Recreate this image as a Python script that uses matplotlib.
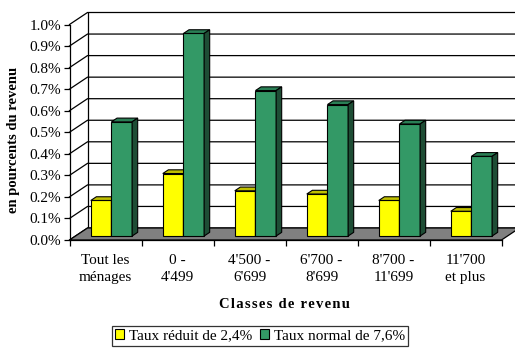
import matplotlib.pyplot as plt
from matplotlib.patches import Polygon

# data (in % of income)
categories = ["Tout les\nménages", "0 -\n4'499", "4'500 -\n6'699",
              "6'700 -\n8'699", "8'700 -\n11'699", "11'700\net plus"]
taux_reduit = [0.165, 0.29, 0.21, 0.195, 0.165, 0.115]
taux_normal = [0.53, 0.94, 0.675, 0.61, 0.52, 0.37]
series_names = ["Taux réduit de 2,4%", "Taux normal de 7,6%"]
yticks = [i / 10 for i in range(11)]

plt.rcParams['font.family'] = ['Liberation Serif', 'DejaVu Serif']

W, H = 515, 349
fig = plt.figure(figsize=(W / 100, H / 100), dpi=100)
ax = fig.add_axes([69.5 / W, 1 - 240 / H, (501.5 - 69.5) / W, (240 - 24.5) / H])
n = len(categories)
ax.set_xlim(0, n)
ax.set_ylim(0, 1.0)

# pseudo 3-D depth offsets, in data units
dx, dy = 18 / 72, 12 / 215.5
f0, f1 = 0.33, 0.64   # front / back depth of the bars
bw = 0.287            # bar width in category units

# back wall + side wall
ax.add_patch(Polygon([(dx, dy), (n + 1, dy), (n + 1, 1 + dy), (dx, 1 + dy)],
                     closed=True, fc='white', ec='none', zorder=0, clip_on=False))
for v in yticks:
    ax.plot([0, dx, n + 1], [v, v + dy, v + dy], color='black', lw=0.9,
            zorder=1, clip_on=False)
ax.plot([dx, dx], [dy, 1 + dy], color='black', lw=0.9, zorder=1, clip_on=False)

# floor
ax.add_patch(Polygon([(0, 0), (n, 0), (n + dx, dy), (dx, dy)], closed=True,
                     fc='#808080', ec='black', lw=0.9, zorder=2, clip_on=False))


def bar3d(x0, w, h, front, top, side):
    ox, oy = dx * f0, dy * f0
    ddx, ddy = dx * (f1 - f0), dy * (f1 - f0)
    xa, xb = x0 + ox, x0 + w + ox
    ya, yb = oy, h + oy
    kw = dict(closed=True, ec='black', lw=0.8, zorder=3, clip_on=False)
    ax.add_patch(Polygon([(xa, ya), (xb, ya), (xb, yb), (xa, yb)], fc=front, **kw))
    ax.add_patch(Polygon([(xa, yb), (xb, yb), (xb + ddx, yb + ddy), (xa + ddx, yb + ddy)], fc=top, **kw))
    ax.add_patch(Polygon([(xb, ya), (xb + ddx, ya + ddy), (xb + ddx, yb + ddy), (xb, yb)], fc=side, **kw))


for i in range(n):
    c = i + 0.5
    bar3d(c - bw, bw, taux_reduit[i], '#FFFF00', '#C0C000', '#808000')
    bar3d(c, bw, taux_normal[i], '#339966', '#2A7F55', '#1E4D35')

# axes
for s in ['top', 'right']:
    ax.spines[s].set_visible(False)
ax.spines['left'].set_linewidth(0.9)
ax.spines['bottom'].set_linewidth(0.9)
ax.spines['left'].set_zorder(5)
ax.spines['bottom'].set_zorder(5)
ax.set_yticks(yticks)
ax.set_yticklabels([f"{v:.1f}%" for v in yticks], fontsize=11)
ax.tick_params(axis='y', direction='out', length=4, width=0.9, pad=2)
ax.set_xticks(range(n + 1))
ax.set_xticklabels([])
ax.tick_params(axis='x', which='major', direction='out', length=4, width=0.9)
ax.set_xticks([i + 0.5 for i in range(n)], minor=True)
ax.set_xticklabels(categories, minor=True, fontsize=11, linespacing=1.45)
ax.tick_params(axis='x', which='minor', length=0, pad=10)

fig.text(14 / W, 1 - 140 / H, "en pourcents du revenu", rotation=90,
         ha='center', va='center', fontsize=10.5, fontweight='bold')
fig.text(284 / W, 1 - 305 / H, "\u200a".join("Classes de revenu"),
         ha='center', va='center', fontsize=10.5, fontweight='bold')

# legend
h1 = plt.Rectangle((0, 0), 1, 1, fc='#FFFF00', ec='black', lw=0.8)
h2 = plt.Rectangle((0, 0), 1, 1, fc='#339966', ec='black', lw=0.8)
leg = fig.legend([h1, h2], series_names, loc='center', ncol=2,
                 bbox_to_anchor=(260 / W, 1 - 336 / H), fontsize=11,
                 frameon=True, fancybox=False, edgecolor='black',
                 handlelength=0.6, handleheight=0.6, handletextpad=0.3,
                 columnspacing=0.5, borderpad=0.2, borderaxespad=0)
leg.get_frame().set_linewidth(0.9)

fig.savefig("out.png", dpi=100)
